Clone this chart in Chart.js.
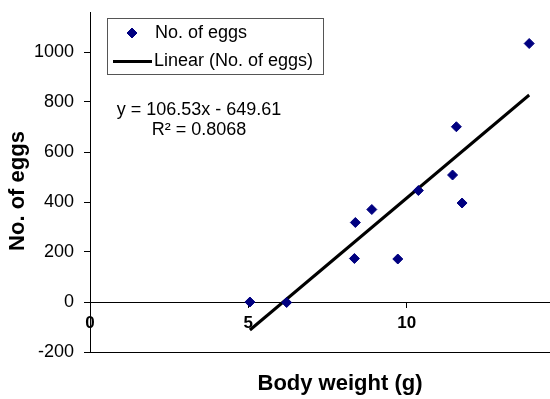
<!DOCTYPE html>
<html>
<head>
<meta charset="utf-8">
<script src="https://cdn.jsdelivr.net/npm/chart.js@4.4.0/dist/chart.umd.min.js"></script>
<style>
  html, body { margin: 0; padding: 0; background: #fff; overflow: hidden; }
  #wrap { position: relative; width: 596px; height: 399px; }
</style>
</head>
<body>
<div id="wrap"><canvas id="eggsChart" width="596" height="399"></canvas></div>
<script>
// values
const bodyWeight = [5.05, 6.21, 8.35, 8.38, 8.90, 9.72, 10.37, 11.45, 11.57, 11.75, 13.87];
const eggCount = [0, -2, 174, 318, 370, 172, 446, 508, 701, 396, 1034];
const trendX = [5.05, 13.87];
const trendY = [-112, 828];
const xTicks = [0, 5, 10, 15];
const yTicks = [-200, 0, 200, 400, 600, 800, 1000];
const seriesLabels = ['No. of eggs', 'Linear (No. of eggs)'];
const equationLines = ['y = 106.53x - 649.61', 'R\u00B2 = 0.8068'];
const yTitle = 'No. of eggs';

const FONT = 'Arial, "Liberation Sans", sans-serif';

// legend box, trendline equation and the y title (Excel places it a bit low)
const excelLegend = {
  id: 'excelLegend',
  afterDraw(chart) {
    const ctx = chart.ctx;
    const ds = chart.data.datasets;
    ctx.save();
    ctx.fillStyle = '#fff';
    ctx.fillRect(107.5, 18.5, 216, 56);
    ctx.strokeStyle = '#555';
    ctx.lineWidth = 1;
    ctx.strokeRect(107.5, 18.5, 216, 56);

    ctx.fillStyle = ds[0].backgroundColor;
    ctx.strokeStyle = ds[0].borderColor;
    Chart.helpers.drawPoint(ctx, { pointStyle: 'rectRot', radius: 5, borderWidth: 1 }, 132, 33);

    ctx.strokeStyle = ds[1].borderColor;
    ctx.lineWidth = ds[1].borderWidth;
    ctx.beginPath();
    ctx.moveTo(113, 61.5); ctx.lineTo(152, 61.5);
    ctx.stroke();

    ctx.fillStyle = '#000';
    ctx.font = '18px ' + FONT;
    ctx.textBaseline = 'middle';
    ctx.textAlign = 'left';
    ctx.fillText(seriesLabels[0], 155, 33);
    ctx.fillText(seriesLabels[1], 154, 61);

    ctx.textAlign = 'center';
    ctx.fillText(equationLines[0], 199, 110);
    ctx.fillText(equationLines[1], 199, 130);

    ctx.translate(18.2, 191);
    ctx.rotate(-Math.PI / 2);
    ctx.font = 'bold 22px ' + FONT;
    ctx.fillText(yTitle, 0, 0);
    ctx.restore();
  }
};

const noEdgePadding = s => {
  s.paddingTop = 0; s.paddingBottom = 0; s.paddingLeft = 0; s.paddingRight = 0;
};

const ctx = document.getElementById('eggsChart');
new Chart(ctx, {
  type: 'scatter',
  data: {
    datasets: [{
      label: seriesLabels[0],
      data: bodyWeight.map((x, i) => ({ x: x, y: eggCount[i] })),
      pointStyle: 'rectRot',
      pointRadius: 5,
      pointHoverRadius: 5,
      backgroundColor: '#000080',
      borderColor: '#000080',
      borderWidth: 1
    }, {
      label: seriesLabels[1],
      type: 'line',
      data: trendX.map((x, i) => ({ x: x, y: trendY[i] })),
      borderColor: '#000',
      borderWidth: 3,
      pointRadius: 0,
      fill: false
    }]
  },
  options: {
    responsive: false,
    animation: false,
    devicePixelRatio: 1,
    layout: { padding: { top: 12, left: 0, right: 0, bottom: 0 } },
    plugins: {
      legend: { display: false },
      tooltip: { enabled: false }
    },
    scales: {
      x: {
        type: 'linear',
        position: { y: 0 },
        min: 0,
        max: 15.79,
        afterBuildTicks: s => { s.ticks = xTicks.map(v => ({ value: v })); },
        afterFit: noEdgePadding,
        grid: { drawOnChartArea: false, tickLength: 5, color: '#000' },
        border: { color: '#000', width: 1 },
        ticks: {
          color: '#000',
          padding: 6,
          maxRotation: 0,
          callback: v => String(v),
          font: { family: FONT, size: 17, weight: 'bold' }
        }
      },
      x2: {
        type: 'linear',
        axis: 'x',
        position: 'bottom',
        min: 0,
        max: 15.79,
        afterFit: s => { noEdgePadding(s); s.height = 47; },
        grid: { display: false },
        border: { color: '#000', width: 1 },
        ticks: { display: false },
        title: {
          display: true,
          text: 'Body weight (g)',
          color: '#000',
          padding: { top: 0, bottom: 2 },
          font: { family: FONT, size: 22, weight: 'bold' }
        }
      },
      y: {
        type: 'linear',
        position: 'left',
        min: -200,
        max: 1160,
        afterBuildTicks: s => { s.ticks = yTicks.map(v => ({ value: v })); },
        afterFit: s => { noEdgePadding(s); s.width = 90; },
        grid: { drawOnChartArea: false, tickLength: 6, color: '#000' },
        border: { color: '#000', width: 1 },
        ticks: {
          color: '#000',
          padding: 10,
          callback: v => String(v),
          font: { family: FONT, size: 18 }
        }
      }
    }
  },
  plugins: [excelLegend]
});
</script>
</body>
</html>
